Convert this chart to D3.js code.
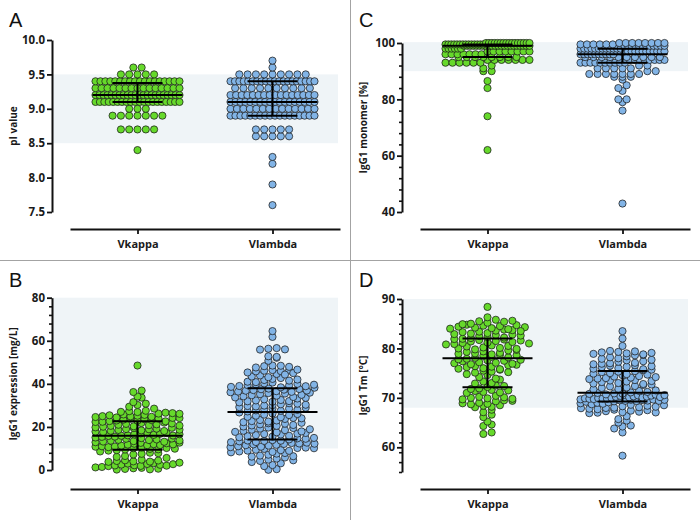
<!DOCTYPE html>
<html><head><meta charset="utf-8">
<script src="https://cdn.jsdelivr.net/npm/d3@7"></script>
<style>body{margin:0;background:#fff} svg{display:block}</style>
</head><body>
<svg id="c" width="700" height="520"></svg>
<script>
// ---------------- DATA ----------------
const categories = ["Vkappa", "Vlambda"];

// Panel A: pI value
const pI_kappa = [8.4,
 8.7,8.7,8.7,8.7,8.7,
 8.9,8.9,8.9,8.9,8.9,8.9,8.9,
 9.0,9.0,9.0,
 9.1,9.1,9.1,9.1,9.1,9.1,9.1,9.1,9.1,9.1,9.1,9.1,9.1,9.1,9.1,9.1,9.1,9.1,9.1,9.1,
 9.2,9.2,9.2,9.2,9.2,9.2,9.2,9.2,9.2,9.2,9.2,9.2,9.2,9.2,9.2,9.2,9.2,9.2,9.2,9.2,9.2,9.2,
 9.3,9.3,9.3,9.3,9.3,9.3,9.3,9.3,9.3,9.3,9.3,9.3,9.3,9.3,9.3,
 9.4,9.4,9.4,9.4,9.4,9.4,9.4,9.4,9.4,9.4,9.4,9.4,9.4,9.4,9.4,9.4,9.4,9.4,
 9.5,9.5,9.5,9.5,9.5,
 9.6,9.6];
const pI_lambda = [7.6,7.9,8.2,8.3,
 8.6,8.6,8.6,8.6,8.6,
 8.7,8.7,8.7,8.7,8.7,
 8.9,8.9,8.9,8.9,8.9,8.9,8.9,8.9,8.9,8.9,8.9,8.9,8.9,8.9,8.9,8.9,8.9,8.9,
 9.0,9.0,9.0,9.0,9.0,9.0,9.0,9.0,9.0,9.0,9.0,9.0,9.0,9.0,
 9.1,9.1,9.1,9.1,9.1,9.1,9.1,9.1,9.1,9.1,9.1,9.1,9.1,9.1,9.1,9.1,9.1,9.1,
 9.2,9.2,9.2,9.2,9.2,9.2,9.2,9.2,9.2,9.2,9.2,9.2,9.2,9.2,9.2,9.2,
 9.3,9.3,9.3,9.3,9.3,9.3,9.3,9.3,9.3,9.3,
 9.4,9.4,9.4,9.4,9.4,9.4,9.4,9.4,9.4,9.4,9.4,9.4,9.4,9.4,9.4,9.4,9.4,9.4,9.4,9.4,
 9.5,9.5,9.5,9.5,9.5,9.5,9.5,9.5,9.5,
 9.6,9.7];

// Panel C: IgG1 monomer [%]
const mono_kappa = [62,74,84,86.5,90,90,91,92,
 93,93,93,93,93,93,
 94,94,94,94,94,94,94,
 95,95,95,95,95,95,95,95,
 96,96,96,96,96,96,96,
 97,97,97,97,97,97,97,97,
 98,98,98,98,98,98,
 99,99,99,99,99,99,99,99,99,99,99,99,99,99,99,99,99,99,99,99,99,99,
 99.5,99.5,99.5,99.5,99.5,99.5,99.5,99.5,99.5,99.5,99.5,99.5,99.5,99.5,
 100,100,100,100,100,100,100,100,100,100,100,100,100,100,100,100];
const mono_lambda = [43,76,79,80,80,83,84,85,87,
 88,88,88,
 89,89,89,89,89,89,89,
 90,90,
 91,91,91,91,91,
 92,92,
 93,93,93,93,93,93,93,93,93,93,
 94,94,94,94,94,94,94,94,
 95,95,95,95,95,95,95,95,95,95,
 96,96,96,96,96,96,96,96,96,96,
 97,97,97,97,97,97,97,97,97,97,97,97,97,97,
 98,98,98,98,98,98,98,98,98,98,98,98,
 99,99,99,99,99,99,99,99,99,99,99,99,
 99.5,99.5,99.5,99.5,99.5,99.5,
 100,100,100,100,100,100,100,100];

// Panel B: IgG1 expression [mg/L]
const expr_kappa = [0.2,0.5,0.8,1.0,0.3,1.2,0.6,1.4,
 1.8,2.1,2.5,3.0,2.2,1.9,2.8,3.2,2.4,2.0,2.7,3.4,
 3.8,4.2,4.5,4.0,4.8,3.9,4.4,
 5.6,6.1,6.5,
 7.2,7.5,8.0,7.8,8.6,
 9.0,9.2,
 9.5,10.1,10.4,9.8,10.8,11.0,9.6,10.2,10.6,9.9,10.9,
 11.3,11.8,12.2,12.6,11.5,12.9,12.0,11.6,12.4,11.9,12.7,
 13.2,13.6,14.0,14.5,13.4,14.8,13.9,14.2,13.1,14.6,13.7,
 15.1,15.4,15.8,15.5,15.9,
 16.1,16.5,17.0,17.4,16.3,17.8,16.8,17.2,16.0,17.6,16.6,
 18.2,18.6,19.0,19.5,18.4,19.8,18.9,19.2,18.1,19.6,18.7,
 20.1,20.5,21.0,21.4,20.3,21.8,20.8,21.2,22.0,21.6,22.3,20.6,22.4,
 22.7,23.0,23.4,23.8,22.9,23.6,23.2,23.9,22.6,
 24.2,24.6,25.0,25.4,24.4,25.8,24.9,25.2,24.1,25.6,24.7,
 26.2,26.6,27.0,27.3,26.4,26.9,27.5,26.1,
 28.5,29.4,
 30.2,30.8,31.5,
 33.6,34.1,
 36.2,36.9,
 48.5];
const expr_lambda = [0.1,0.4,1.8,
 2.3,3.1,3.7,
 4.2,4.8,5.3,5.8,4.5,
 6.2,6.7,7.1,7.6,7.9,6.4,
 8.2,8.6,9.0,9.4,9.8,8.4,9.2,8.9,
 10.2,10.6,11.0,11.5,11.9,10.8,11.3,10.4,11.7,10.1,
 12.1,12.5,12.9,13.3,13.7,12.3,13.0,13.5,12.7,13.9,12.2,13.6,
 14.2,14.7,15.2,15.7,16.2,16.7,14.5,15.5,16.5,14.9,15.9,16.9,
 17.2,17.7,18.2,18.7,19.2,19.7,17.5,18.5,19.5,17.9,18.9,
 20.2,20.7,21.2,21.7,22.2,22.7,23.2,20.5,21.5,22.5,20.9,21.9,23.0,
 23.7,24.2,24.7,25.2,25.7,26.2,26.7,24.5,25.5,24.0,26.0,
 27.2,27.7,28.2,28.7,29.2,29.7,27.5,28.5,29.5,27.9,28.9,29.9,
 30.1,30.5,31.0,31.4,31.9,32.3,32.8,30.8,31.7,32.5,30.3,32.0,
 33.2,33.7,34.2,34.7,35.2,35.7,33.5,34.5,35.5,33.9,34.9,35.9,
 36.1,36.4,36.8,37.1,37.5,37.8,36.6,37.3,36.3,37.6,36.9,
 38.2,38.6,39.0,39.4,39.8,40.2,40.6,41.0,38.4,39.2,40.0,40.8,38.9,39.6,
 41.8,42.3,42.7,43.4,43.9,41.5,42.0,43.1,
 44.6,45.3,45.8,46.1,46.4,45.9,46.2,44.3,45.0,46.6,
 47.6,48.2,48.5,48.4,47.9,
 50.7,52.1,52.8,52.5,
 55.9,56.3,56.6,56.0,
 61.8,64.5];

// Panel D: IgG1 Tm [°C]
const tm_kappa = [62.7,63.0,64.3,64.6,65.2,66.1,66.6,67.1,67.6,
 68.1,68.4,68.9,68.2,68.7,69.0,68.5,68.8,
 69.3,69.7,70.0,69.5,70.2,69.9,70.4,69.4,70.1,69.8,
 71.0,71.4,71.8,71.2,71.6,71.9,71.1,71.5,
 72.2,72.5,72.9,73.3,72.4,73.0,
 73.7,74.2,74.6,73.9,74.8,
 75.1,75.5,75.9,76.2,75.3,76.4,75.7,76.0,75.2,76.3,75.8,
 76.6,77.0,77.4,77.8,76.8,77.2,77.6,76.7,77.9,77.1,77.5,76.9,77.7,
 78.1,78.5,78.9,79.3,78.3,79.0,78.7,79.4,78.2,78.8,79.1,78.6,
 79.6,80.0,80.4,80.8,79.8,80.2,80.6,79.7,80.9,80.1,80.5,79.9,
 81.1,81.4,81.7,81.9,81.2,81.5,81.8,81.3,81.6,81.0,81.95,
 82.1,82.5,82.9,83.3,82.3,83.0,82.7,83.4,82.2,82.8,83.1,82.6,
 83.6,84.0,84.4,84.8,83.8,84.2,84.6,83.7,84.9,84.1,84.5,83.9,84.7,84.3,83.5,
 85.0,85.5,85.2,85.8,85.4,85.6,
 86.3,88.4];
const tm_lambda = [58.3,63.0,63.8,64.2,64.4,65.0,65.4,65.7,66.3,66.9,
 67.0,67.3,67.6,67.9,67.1,67.4,67.8,67.2,67.5,67.7,67.95,67.05,
 68.0,68.3,68.6,68.9,69.2,68.1,68.4,68.7,69.0,68.2,68.5,68.8,69.1,
 69.3,69.5,69.7,69.9,69.4,69.6,69.8,69.35,69.55,69.75,69.95,69.45,69.65,69.85,69.4,69.6,69.8,
 70.0,70.2,70.4,70.6,70.8,71.0,70.1,70.3,70.5,70.7,70.9,70.05,70.25,70.45,70.65,70.85,70.15,70.55,
 71.1,71.4,71.7,72.0,72.3,71.2,71.5,71.8,72.1,72.4,
 72.6,72.9,73.2,73.5,73.8,72.7,73.0,73.3,73.6,73.9,72.8,73.4,
 74.0,74.3,74.6,74.9,75.2,74.1,74.4,74.7,75.0,75.3,74.2,74.8,75.4,
 75.6,75.9,76.2,76.5,76.8,75.7,76.0,76.3,76.6,76.9,75.8,76.4,
 77.0,77.3,77.6,77.9,78.2,77.1,77.4,77.7,78.0,78.4,
 78.6,78.9,79.2,79.5,79.3,78.7,79.0,79.4,78.8,79.1,
 80.5,82.0,83.5];

// tick labels
const ticksA = [7.5, 8.0, 8.5, 9.0, 9.5, 10.0];
const ticksB = [0, 20, 40, 60, 80];
const ticksC = [40, 60, 80, 100];
const ticksD = [60, 70, 80, 90];

// ---------------- DRAW ----------------
const svg = d3.select("#c");
const colors = ["#66d92b", "#82b4e6"];
const dotR = 3.6, maxHalf = 42, maxStep = 8.3, binH = 5;
const FONT = "'Open Sans', 'DejaVu Sans', sans-serif";

// dividers
svg.append("line").attr("x1", 350.5).attr("x2", 350.5).attr("y1", 0).attr("y2", 520)
  .attr("stroke", "#a3a3a3").attr("stroke-width", 1);
svg.append("line").attr("x1", 0).attr("x2", 700).attr("y1", 260.5).attr("y2", 260.5)
  .attr("stroke", "#a3a3a3").attr("stroke-width", 1);

const panels = [
  {letter: "A", ox: 0, oy: 0, title: "pI value", domain: [7.5, 10], range: [212, 40],
   ticks: ticksA, fmt: d3.format(".1f"), minor: null, band: [8.5, 9.5], data: [pI_kappa, pI_lambda]},
  {letter: "C", ox: 350, oy: 0, title: "IgG1 monomer [%]", domain: [40, 100], range: [212, 43],
   ticks: ticksC, fmt: d3.format("d"), minor: 4, band: [90, 100.3], data: [mono_kappa, mono_lambda]},
  {letter: "B", ox: 0, oy: 260, title: "IgG1 expression [mg/L]", domain: [0, 80], range: [210, 37.7],
   ticks: ticksB, fmt: d3.format("d"), minor: 4, band: [10, 80], data: [expr_kappa, expr_lambda]},
  {letter: "D", ox: 350, oy: 260, title: "IgG1 Tm [°C]", domain: [55, 90], range: [212, 39],
   ticks: ticksD, fmt: d3.format("d"), minor: 2, band: [68, 90], data: [tm_kappa, tm_lambda]}
];

function swarm(values, cx, y) {
  const y0 = y.range()[0];
  const pts = values.map((v, i) => ({v, py: y(v), i}));
  const bins = d3.group(pts, d => Math.round((y0 - d.py) / binH));
  bins.forEach(arr => {
    const n = arr.length;
    const step = n > 1 ? Math.min(maxStep, 2 * maxHalf / (n - 1)) : 0;
    arr.forEach((d, k) => { d.px = cx + (k - (n - 1) / 2) * step; });
  });
  return pts;
}

panels.forEach(p => {
  const g = svg.append("g").attr("transform", `translate(${p.ox},${p.oy})`);
  const y = d3.scaleLinear().domain(p.domain).range(p.range);
  const x = d3.scalePoint().domain(categories).range([70, 340]).padding(0.5);

  // shaded band
  g.append("rect").attr("x", 53).attr("width", 338 - 53)
    .attr("y", y(p.band[1])).attr("height", y(p.band[0]) - y(p.band[1]))
    .attr("fill", "#eff4f7");

  // panel letter
  g.append("text").attr("x", 9).attr("y", 27).text(p.letter)
    .attr("font-family", "'Liberation Sans', Arial, sans-serif").attr("font-size", 20).attr("fill", "#111");

  // minor ticks
  if (p.minor) {
    const minorVals = d3.range(p.domain[0], p.domain[1] + 0.001, p.minor).filter(v => !p.ticks.includes(v));
    const mAxis = g.append("g").attr("transform", "translate(52,0)")
      .call(d3.axisLeft(y).tickValues(minorVals).tickSize(3).tickSizeOuter(0).tickFormat(""));
    mAxis.select(".domain").remove();
    mAxis.selectAll("line").attr("stroke", "#111").attr("stroke-width", 1.6);
  }
  // y axis
  const yAxis = g.append("g").attr("transform", "translate(52,0)")
    .call(d3.axisLeft(y).tickValues(p.ticks).tickFormat(p.fmt).tickSize(5).tickSizeOuter(0).tickPadding(2));
  yAxis.select(".domain").attr("stroke", "#111").attr("stroke-width", 2);
  yAxis.selectAll("line").attr("stroke", "#111").attr("stroke-width", 1.8);
  yAxis.selectAll("text").attr("font-family", FONT).attr("font-weight", 700)
    .attr("font-size", 11.5).attr("fill", "#1a1a1a");

  // y title
  const ym = (p.range[0] + p.range[1]) / 2;
  g.append("text").attr("transform", `translate(17,${ym}) rotate(-90)`)
    .attr("text-anchor", "middle").text(p.title)
    .attr("font-family", FONT).attr("font-weight", 700).attr("font-size", 10).attr("fill", "#1a1a1a");

  // x axis
  const xAxis = g.append("g").attr("transform", "translate(0,229)")
    .call(d3.axisBottom(x).tickSize(5).tickSizeOuter(0).tickPadding(6));
  xAxis.select(".domain").attr("stroke", "#111").attr("stroke-width", 2);
  xAxis.selectAll("line").attr("stroke", "#111").attr("stroke-width", 1.8);
  xAxis.selectAll("text").attr("font-family", FONT).attr("font-weight", 700)
    .attr("font-size", 11).attr("fill", "#1a1a1a");

  // dots
  p.data.forEach((vals, ci) => {
    const cx = x(categories[ci]);
    const pts = swarm(vals, cx, y);
    g.append("g").selectAll("circle").data(pts).join("circle")
      .attr("cx", d => d.px).attr("cy", d => d.py).attr("r", dotR)
      .attr("fill", colors[ci]).attr("stroke", "#1b1b1b").attr("stroke-width", 0.75);
  });

  // median + IQR
  p.data.forEach((vals, ci) => {
    const cx = x(categories[ci]);
    const q1 = d3.quantile(vals, 0.25), med = d3.quantile(vals, 0.5), q3 = d3.quantile(vals, 0.75);
    const eb = g.append("g").attr("stroke", "#000").attr("stroke-width", 2);
    eb.append("line").attr("x1", cx).attr("x2", cx).attr("y1", y(q1)).attr("y2", y(q3));
    eb.append("line").attr("x1", cx - 25).attr("x2", cx + 25).attr("y1", y(q1)).attr("y2", y(q1));
    eb.append("line").attr("x1", cx - 25).attr("x2", cx + 25).attr("y1", y(q3)).attr("y2", y(q3));
    eb.append("line").attr("x1", cx - 45).attr("x2", cx + 45).attr("y1", y(med)).attr("y2", y(med));
  });
});
</script>
</body></html>
